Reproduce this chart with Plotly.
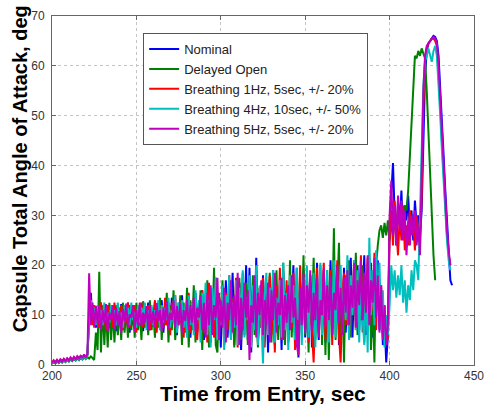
import plotly.graph_objects as go

# Capsule total angle of attack histories (deg), sampled once per second from t = 200 s
T_START = 200

nominal = [
    0.3, 0.8, 0.4, 0.9, 0.5, 1.0, 0.6, 1.1, 0.7, 1.2,
    0.8, 1.3, 0.9, 1.4, 1.0, 1.6, 1.1, 1.7, 1.2, 1.9,
    1.3, 2.0, 9.5, 14.5, 8.5, 12.0, 7.5, 11.5, 9.0, 12.5,
    7.0, 11.0, 8.5, 12.0, 7.5, 10.5, 9.0, 11.8, 6.8, 10.0,
    8.5, 12.2, 7.2, 11.0, 9.5, 12.5, 6.5, 10.8, 8.0, 11.5,
    7.5, 12.0, 8.8, 10.5, 6.8, 11.8, 9.0, 12.5, 7.0, 10.5,
    8.5, 12.8, 7.5, 11.0, 9.2, 13.0, 6.5, 11.5, 8.0, 12.5,
    7.0, 13.5, 9.0, 11.0, 6.0, 12.5, 8.5, 14.0, 7.0, 11.5,
    9.5, 13.0, 5.5, 12.0, 8.0, 14.5, 6.5, 11.0, 9.0, 15.0,
    5.0, 13.5, 7.5, 16.0, 4.5, 12.0, 9.0, 17.5, 6.0, 13.0,
    3.5, 15.0, 8.0, 17.0, 5.5, 12.5, 9.5, 18.5, 4.0, 14.0,
    7.0, 16.5, 3.0, 13.0, 9.0, 20.0, 5.0, 19.5, 2.5, 15.0,
    8.0, 21.5, 4.5, 12.0, 7.5, 18.0, 5.5, 14.5, 2.5, 17.0,
    9.0, 19.0, 4.0, 13.5, 7.0, 16.0, 3.0, 18.5, 8.5, 14.0,
    5.0, 17.5, 9.5, 20.0, 4.0, 13.0, 1.5, 16.5, 8.0, 19.0,
    5.5, 15.0, 10.0, 18.0, 3.5, 14.0, 7.5, 20.5, 5.0, 16.0,
    9.0, 19.0, 4.5, 15.5, 8.0, 21.0, 6.0, 17.0, 10.5, 20.0,
    4.0, 16.0, 9.0, 19.5, 6.5, 15.0, 11.0, 21.5, 5.5, 17.0,
    10.0, 20.0, 7.0, 18.5, 12.0, 22.0, 6.0, 16.0, 9.0, 20.5,
    5.5, 18.0, 11.0, 21.0, 7.0, 15.0, 4.0, 9.0, 0.5, 6.0,
    28.0, 35.0, 40.5, 30.0, 24.0, 33.0, 28.0, 35.0, 26.0, 32.0,
    29.0, 34.0, 27.0, 31.0, 25.0, 33.0, 28.0, 30.0, 26.0, 31.0,
    46.0, 58.0, 63.0, 64.5, 65.0, 65.5, 66.0, 65.8, 65.0, 62.0,
    56.0, 49.0, 42.0, 35.0, 28.0, 22.0, 17.0, 16.0,
]

delayed_open = [
    0.2, 0.6, 0.3, 0.7, 0.4, 0.8, 0.5, 0.9, 0.6, 1.0,
    0.7, 1.1, 0.8, 1.2, 0.9, 1.3, 1.0, 1.4, 1.1, 1.5,
    1.2, 1.6, 1.3, 1.7, 1.4, 1.0, 6.5, 3.0, 18.7, 2.5,
    12.0, 4.0, 11.5, 3.5, 12.5, 5.0, 11.0, 4.5, 12.0, 6.0,
    11.5, 5.0, 12.5, 6.5, 11.0, 5.5, 12.0, 7.0, 11.5, 5.5,
    12.5, 7.0, 11.0, 5.0, 12.8, 7.5, 11.5, 6.0, 13.0, 7.0,
    10.5, 5.5, 12.0, 7.5, 13.5, 5.0, 11.5, 8.0, 14.5, 4.5,
    12.0, 7.0, 15.0, 5.0, 11.0, 8.0, 14.0, 4.0, 12.5, 6.5,
    15.5, 3.5, 13.0, 7.0, 16.0, 4.5, 12.0, 8.0, 15.0, 3.0,
    13.0, 6.0, 17.0, 3.5, 14.0, 7.5, 19.5, 4.0, 2.5, 14.5,
    8.0, 17.0, 4.0, 12.5, 7.0, 16.0, 5.5, 13.5, 3.5, 15.0,
    8.5, 17.5, 5.0, 12.0, 7.5, 16.5, 4.0, 14.0, 9.0, 18.0,
    6.0, 13.0, 3.5, 15.5, 8.0, 17.0, 5.5, 12.5, 9.5, 18.5,
    4.5, 14.0, 7.0, 19.0, 5.0, 13.5, 8.5, 20.5, 4.0, 15.0,
    7.5, 21.0, 5.5, 14.0, 9.0, 19.5, 3.5, 16.0, 8.0, 22.0,
    6.0, 15.0, 2.5, 18.0, 9.5, 21.5, 5.0, 14.0, 8.0, 20.0,
    4.0, 16.5, 2.0, 19.0, 1.0, 17.0, 9.0, 27.4, 5.0, 16.0,
    24.5, 4.0, 15.0, 0.5, 18.0, 8.0, 21.0, 5.5, 16.0, 10.0,
    22.5, 6.0, 14.5, 9.0, 20.0, 4.5, 16.0, 8.0, 22.0, 3.0,
    14.0, 0.5, 20.0, 24.0, 27.0, 28.0, 25.5, 28.5, 26.0, 29.0,
    25.0, 28.5, 26.5, 30.0, 27.5, 31.0, 29.0, 31.5, 30.0, 32.0,
    31.0, 35.0, 42.0, 50.0, 58.0, 62.0, 61.5, 63.0, 62.0, 63.5,
    62.5, 61.5, 55.0, 46.0, 37.0, 29.0, 22.0, 17.0,
]

breathing_1hz = [
    0.4, 0.9, 0.5, 1.0, 0.6, 1.1, 0.7, 1.2, 0.8, 1.3,
    0.9, 1.4, 1.0, 1.5, 1.1, 1.7, 1.2, 1.8, 1.3, 2.0,
    1.4, 2.1, 9.0, 13.0, 8.0, 12.0, 9.5, 11.0, 7.5, 12.5,
    8.5, 11.5, 7.0, 12.0, 9.0, 10.5, 7.5, 12.5, 8.0, 11.0,
    9.5, 12.0, 7.0, 10.5, 8.5, 12.5, 7.5, 11.0, 9.5, 12.0,
    6.5, 11.5, 8.5, 12.5, 7.5, 10.0, 9.0, 12.0, 7.0, 11.5,
    8.0, 13.0, 6.5, 11.5, 9.5, 12.0, 7.5, 13.5, 8.0, 11.0,
    6.0, 12.5, 9.0, 14.0, 7.0, 11.5, 8.5, 13.0, 5.5, 12.0,
    8.0, 14.5, 6.5, 12.5, 9.5, 13.5, 5.0, 11.0, 8.5, 15.0,
    6.5, 14.0, 4.5, 16.5, 8.0, 12.5, 5.5, 17.0, 7.0, 13.5,
    9.5, 16.0, 4.0, 14.5, 7.0, 18.0, 5.5, 13.0, 8.5, 17.5,
    3.5, 15.0, 9.0, 18.5, 6.0, 13.5, 8.0, 16.5, 4.0, 14.0,
    9.0, 19.0, 5.0, 15.5, 7.5, 17.5, 3.5, 13.0, 9.5, 18.0,
    6.0, 14.5, 2.5, 16.0, 8.0, 19.5, 5.0, 15.0, 9.0, 17.0,
    4.5, 14.0, 7.5, 18.5, 3.0, 16.0, 8.5, 20.0, 6.0, 15.0,
    9.5, 18.0, 4.5, 16.5, 7.0, 0.5, 12.0, 19.5, 6.5, 15.5,
    10.0, 20.5, 5.0, 17.0, 8.5, 19.0, 4.0, 16.0, 9.5, 21.0,
    6.0, 0.5, 14.0, 18.5, 8.0, 20.0, 5.5, 16.5, 11.0, 21.0,
    7.0, 18.0, 10.5, 22.0, 6.5, 17.0, 12.0, 21.5, 8.5, 19.0,
    11.0, 22.5, 7.0, 18.0, 10.0, 16.0, 6.0, 12.0, 4.0, 5.5,
    26.0, 31.0, 24.0, 33.0, 27.0, 22.0, 30.0, 25.0, 32.0, 23.0,
    28.0, 24.0, 31.0, 26.0, 29.0, 23.0, 30.0, 27.0, 24.0, 34.0,
    52.0, 61.0, 63.5, 64.5, 65.0, 65.5, 65.5, 65.0, 64.0, 59.0,
    52.0, 45.0, 38.0, 31.0, 26.0, 22.0, 20.0,
]

breathing_4hz = [
    0.3, 0.7, 0.4, 0.9, 0.5, 1.0, 0.6, 1.1, 0.7, 1.2,
    0.8, 1.3, 0.9, 1.4, 1.0, 1.6, 1.1, 1.7, 1.2, 1.8,
    1.3, 2.0, 10.0, 13.0, 9.5, 11.5, 8.0, 12.0, 9.0, 11.0,
    8.0, 12.5, 9.0, 10.5, 8.5, 12.0, 9.5, 11.0, 8.0, 12.5,
    9.0, 10.5, 7.5, 12.0, 9.5, 11.5, 8.0, 12.5, 9.0, 10.5,
    7.5, 12.0, 8.5, 11.5, 9.5, 12.5, 7.0, 11.0, 9.0, 12.0,
    8.0, 11.0, 9.5, 13.0, 7.0, 12.0, 8.5, 11.5, 9.0, 13.5,
    7.5, 11.0, 8.5, 14.0, 6.5, 12.5, 9.0, 13.0, 7.5, 12.0,
    5.5, 14.0, 8.0, 12.5, 6.0, 15.0, 9.0, 13.0, 4.5, 14.5,
    8.5, 16.5, 6.0, 13.0, 3.5, 15.5, 9.0, 17.5, 5.0, 12.0,
    8.0, 16.0, 3.0, 14.0, 9.5, 18.0, 5.0, 12.5, 7.5, 17.0,
    4.0, 15.5, 8.5, 19.0, 5.5, 13.5, 9.0, 18.0, 3.5, 16.0,
    7.0, 20.0, 4.0, 16.0, 9.5, 0.3, 14.0, 18.5, 6.0, 15.5,
    10.0, 19.0, 4.5, 13.5, 8.0, 17.0, 5.5, 20.5, 7.0, 14.5,
    3.0, 18.0, 8.5, 16.0, 5.0, 19.5, 9.0, 14.0, 4.0, 17.5,
    8.0, 20.0, 5.5, 15.0, 10.0, 18.5, 3.5, 16.0, 9.0, 20.5,
    6.0, 17.0, 10.5, 19.0, 4.5, 15.5, 8.0, 21.0, 5.5, 17.0,
    11.0, 20.0, 6.5, 16.5, 9.0, 22.0, 5.0, 18.0, 10.0, 21.0,
    7.0, 19.0, 4.5, 17.5, 9.5, 4.0, 17.0, 2.5, 25.5, 10.0,
    19.0, 8.0, 23.0, 12.0, 20.5, 7.0, 15.0, 3.5, 10.0, 6.0,
    12.0, 20.0, 15.0, 19.0, 13.5, 18.0, 14.0, 20.0, 12.5, 17.0,
    10.5, 16.0, 13.0, 19.0, 15.0, 21.0, 20.0, 17.0, 30.0, 45.0,
    56.0, 61.0, 62.0, 63.5, 62.0, 60.8, 63.0, 64.0, 62.0, 57.0,
    50.0, 43.0, 36.0, 30.0, 25.0, 21.0, 19.0,
]

breathing_5hz = [
    0.4, 0.9, 0.5, 1.0, 0.6, 1.1, 0.7, 1.2, 0.8, 1.3,
    0.9, 1.5, 1.0, 1.6, 1.1, 1.8, 1.2, 1.9, 1.4, 2.1,
    1.5, 2.3, 18.4, 8.0, 12.5, 7.5, 11.8, 8.2, 12.0, 7.0,
    11.0, 8.5, 12.2, 6.8, 10.5, 9.0, 12.0, 7.2, 11.5, 8.0,
    10.8, 6.5, 11.2, 8.8, 12.3, 7.5, 10.2, 9.5, 12.0, 6.8,
    11.0, 8.0, 12.5, 7.8, 10.5, 8.5, 11.8, 7.0, 12.0, 8.2,
    10.8, 7.5, 12.4, 8.8, 11.0, 6.8, 11.5, 8.5, 12.8, 7.2,
    10.5, 9.0, 13.0, 7.5, 11.8, 8.0, 12.5, 6.5, 11.0, 8.8,
    13.2, 7.0, 12.0, 8.5, 13.5, 6.8, 11.5, 9.5, 14.0, 7.0,
    12.5, 5.5, 14.5, 8.0, 16.0, 6.0, 12.0, 9.5, 17.5, 5.0,
    13.0, 7.5, 15.5, 4.5, 12.5, 9.0, 17.0, 6.5, 14.0, 8.0,
    18.5, 4.0, 13.5, 7.0, 16.5, 9.5, 15.0, 1.0, 12.0, 8.5,
    18.0, 5.5, 14.5, 10.0, 17.0, 6.0, 13.0, 8.0, 16.5, 4.5,
    15.0, 9.0, 18.5, 6.5, 12.5, 10.0, 17.5, 5.0, 14.0, 8.5,
    16.0, 7.0, 18.0, 9.5, 13.5, 4.0, 2.0, 15.5, 8.0, 18.5,
    6.5, 16.0, 10.5, 19.0, 7.0, 14.5, 9.0, 17.5, 5.5, 13.0,
    10.0, 19.5, 7.5, 16.0, 9.0, 18.0, 6.0, 14.5, 11.0, 20.0,
    8.5, 15.5, 6.0, 17.5, 10.5, 19.0, 8.0, 16.0, 11.5, 20.5,
    7.5, 17.0, 12.0, 21.0, 9.0, 18.5, 10.5, 22.0, 8.0, 17.0,
    12.5, 21.5, 9.5, 18.0, 6.5, 16.0, 5.0, 12.0, 4.0, 8.0,
    30.0, 37.0, 26.0, 32.0, 24.0, 34.0, 27.0, 33.0, 25.0, 31.0,
    22.0, 29.0, 24.0, 30.0, 26.0, 31.0, 24.0, 28.0, 22.0, 38.0,
    55.0, 62.0, 64.0, 64.5, 65.0, 65.5, 65.8, 65.5, 64.5, 60.0,
    53.0, 46.0, 39.0, 32.0, 27.0, 23.0, 20.0,
]

series_names = [
    "Nominal",
    "Delayed Open",
    "Breathing 1Hz, 5sec, +/- 20%",
    "Breathing 4Hz, 10sec, +/- 50%",
    "Breathing 5Hz, 5sec, +/- 20%",
]
series_values = [nominal, delayed_open, breathing_1hz, breathing_4hz, breathing_5hz]
series_colors = ["#0000ff", "#008000", "#ff0000", "#00bfbf", "#bf00bf"]

x_ticks = [200, 250, 300, 350, 400, 450]
y_ticks = [0, 10, 20, 30, 40, 50, 60, 70]

FONT = "Liberation Sans, Arial, Helvetica, sans-serif"

fig = go.Figure()
for name, vals, color in zip(series_names, series_values, series_colors):
    times = list(range(T_START, T_START + len(vals)))
    fig.add_trace(go.Scatter(
        x=times, y=vals, mode="lines", name=name,
        line=dict(color=color, width=2),
    ))

axis_common = dict(
    showline=True, linecolor="#666", linewidth=1, mirror="ticks",
    ticks="inside", ticklen=4, tickcolor="#666",
    showgrid=True, gridcolor="#c4c4c4", griddash="dot", gridwidth=1,
    zeroline=False, automargin=False,
    tickfont=dict(family=FONT, size=12, color="#333"),
)

fig.update_layout(
    width=485, height=409,
    margin=dict(l=52, r=11, t=16, b=44),
    paper_bgcolor="white", plot_bgcolor="white",
    xaxis=dict(range=[200, 450], tickvals=x_ticks, ticklabeloverflow="allow", **axis_common),
    yaxis=dict(range=[0, 70], tickvals=y_ticks, ticklabelstandoff=4, **axis_common),
    legend=dict(
        x=0.216, y=0.951, xanchor="left", yanchor="top",
        bgcolor="white", bordercolor="#555", borderwidth=1,
        font=dict(family=FONT, size=13, color="#222"),
        tracegroupgap=0,
    ),
    showlegend=True,
    annotations=[
        dict(text="<b>Time from Entry, sec</b>", xref="paper", yref="paper",
             x=0.5, y=-0.083, xanchor="center", yanchor="middle", showarrow=False,
             font=dict(family=FONT, size=21, color="black")),
        dict(text="<b>Capsule Total Angle of Attack, deg</b>", xref="paper", yref="paper",
             x=-0.075, y=0.5616, xanchor="center", yanchor="middle", showarrow=False,
             textangle=-90, font=dict(family=FONT, size=20, color="black")),
    ],
)

fig.write_html("out.html")
